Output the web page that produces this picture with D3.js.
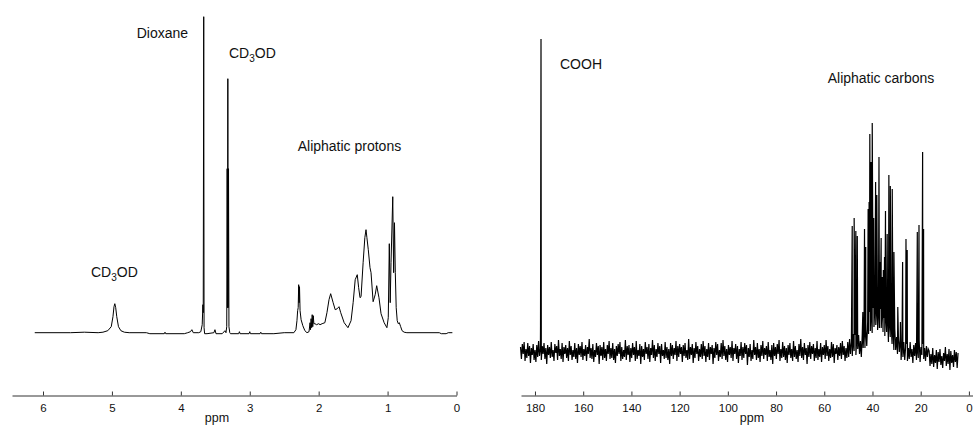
<!DOCTYPE html>
<html>
<head>
<meta charset="utf-8">
<script src="https://cdn.jsdelivr.net/npm/d3@7"></script>
<style>
  html, body { margin: 0; padding: 0; background: #fff; }
  svg { display: block; font-family: "Liberation Sans", Arial, Helvetica, sans-serif; }
</style>
</head>
<body>
<div id="container"></div>
<script>
const width = 973, height = 435;

// 1H spectrum — trace vertices [ppm, intensity]
const h1Trace = [
  [6.12, 0], [5.6, 0], [5.4, 0.5], [5.2, 0], [5.13, 0.5], [5.06, 2], [5.01, 6], [4.985, 16],
  [4.97, 26], [4.958, 29], [4.945, 25], [4.93, 16], [4.905, 6], [4.87, 2], [4.82, 0.5], [4.75, 0],
  [4.5, 0], [4.45, -1], [4.24, -1], [4.23, 0.5], [4.22, -1], [3.95, -1], [3.9, 0], [3.86, 1],
  [3.84, 3], [3.82, 0], [3.74, 0], [3.71, 1], [3.69, 8], [3.68, 28], [3.675, 20], [3.668, 316],
  [3.663, 5], [3.655, -1], [3.62, -1], [3.52, 0], [3.505, 3], [3.49, -1], [3.4, -1], [3.36, 2],
  [3.345, 0], [3.334, 6], [3.328, 164], [3.322, 25], [3.318, 254], [3.314, 25], [3.308, 164], [3.302, 6],
  [3.29, 0], [3.28, -1], [3.16, -1], [3.15, 1], [3.14, -1], [3.01, -1], [3.0, 1], [2.99, -1],
  [2.85, -1], [2.84, 0.5], [2.83, -1], [2.65, -1], [2.5, 0], [2.36, 0], [2.33, 3], [2.315, 12],
  [2.305, 22], [2.297, 25], [2.29, 48], [2.284, 30], [2.278, 46], [2.27, 22], [2.255, 13], [2.23, 7],
  [2.2, 2], [2.17, 0], [2.14, 1], [2.125, 10], [2.118, 3], [2.11, 14], [2.102, 5], [2.094, 18],
  [2.086, 6], [2.078, 17], [2.07, 9], [2.055, 9], [2.03, 8], [2.0, 9], [1.98, 8], [1.95, 9],
  [1.91, 10], [1.88, 20], [1.85, 33], [1.826, 39], [1.79, 30], [1.76, 23], [1.73, 24], [1.705, 26],
  [1.68, 20], [1.63, 10], [1.575, 5], [1.53, 12], [1.5, 30], [1.47, 53], [1.44, 58], [1.42, 45],
  [1.4, 35], [1.385, 36], [1.355, 70], [1.33, 95], [1.313, 103], [1.3, 95], [1.28, 83], [1.255, 65],
  [1.24, 60], [1.21, 31], [1.18, 38], [1.158, 47], [1.125, 35], [1.095, 19], [1.05, 10], [1.01, 5],
  [0.99, 15], [0.975, 89], [0.962, 30], [0.95, 70], [0.925, 136], [0.912, 60], [0.9, 110], [0.888, 60],
  [0.875, 25], [0.86, 12], [0.845, 9], [0.83, 10], [0.81, 6], [0.79, 2], [0.76, 0.5], [0.72, 0],
  [0.25, 0], [0.22, -1], [0.15, -1], [0.12, 0], [0.06, 0]
];
const h1Ticks = [6, 5, 4, 3, 2, 1, 0];

// 13C spectrum — baseline samples every 0.375 ppm, from 186 ppm down to 4.5 ppm
const c13Start = 186;
const c13Step = 0.375;
const c13Baseline = [
  5, -7, 8, -2, 10, -9, 3, -6, 9, -4, 6, -11, 4, -3, 8, -8, 2, -10, 7, -5,
  11, -4, 3, -8, 6, -2, 9, -7, 4, -12, 7, -3, 5, -6, 10, -5, 2, -9, 8, -1,
  6, -8, 12, -4, 3, -7, 9, -10, 5, -2, 7, -6, 4, -9, 11, -3, 6, -8, 2, -5,
  9, -7, 4, -11, 8, -3, 6, -5, 10, -8, 3, -4, 7, -9, 5, -2, 13, -6, 4, -7,
  8, -10, 2, -5, 9, -3, 6, -12, 7, -4, 5, -8, 10, -6, 3, -9, 7, -2, 11, -7,
  4, -6, 9, -8, 3, -11, 6, -4, 8, -2, 10, -9, 5, -7, 2, -5, 12, -8, 6, -3,
  7, -10, 4, -6, 9, -3, 5, -9, 11, -7, 2, -4, 8, -12, 6, -5, 3, -8, 10, -2,
  5, -7, 8, -10, 4, -3, 12, -6, 7, -9, 3, -5, 9, -2, 6, -11, 8, -4, 2, -7,
  10, -6, 5, -8, 3, -12, 9, -4, 7, -7, 4, -3, 11, -9, 6, -5, 8, -2, 5, -10,
  7, -4, 9, -6, 2, -8, 13, -7, 5, -3, 8, -11, 4, -6, 10, -2, 6, -9, 3, -5,
  8, -7, 11, -4, 6, -10, 3, -5, 9, -8, 5, -2, 7, -12, 4, -6, 10, -3, 8, -9,
  2, -5, 9, -7, 12, -4, 6, -8, 3, -10, 7, -3, 5, -6, 11, -9, 4, -2, 8, -7,
  6, -11, 3, -4, 10, -8, 5, -6, 9, -2, 7, -13, 4, -5, 8, -9, 2, -7, 12, -3,
  5, -8, 9, -6, 3, -10, 7, -4, 11, -7, 4, -3, 6, -9, 10, -5, 2, -8, 7, -12,
  9, -4, 5, -7, 8, -2, 12, -9, 3, -6, 10, -5, 6, -8, 4, -11, 7, -3, 9, -6,
  3, -9, 11, -5, 6, -7, 2, -10, 8, -4, 13, -6, 5, -8, 9, -3, 4, -12, 7, -5,
  10, -7, 6, -2, 8, -9, 4, -6, 11, -8, 3, -5, 9, -10, 5, -3, 7, -7, 12, -4,
  6, -9, 3, -6, 10, -5, 8, -11, 4, -2, 7, -8, 5, -4, 9, -7, 11, -3, 6, -9,
  4, -6,
  // broad aliphatic hump, 50.25 → 26.25 ppm
  10, -5, 13, -2, 10, -4, 18, 1, 17, -3, 15, 3, 17, -2, 11, -5, 17, 4, 23, 4,
  22, 6, 30, 18, 40, 21, 37, 19, 44, 25, 46, 27, 43, 22, 41, 24, 43, 24, 44, 20,
  34, 16, 36, 20, 36, 10, 30, 15, 29, 8, 23, 2, 23, 2, 15, -2, 16, 0, 12, -8,
  9, -5, 10, -8, 5,
  8, -9, 4, -7, 10, -5, 3, -11, 7, -4, 9, -8, 2, -6, 11, -10, 5, -3, 8, -7,
  4, -9, 6, -5, 3,
  1, -14, -2, -12, 4, -15, -3, -11, 2, -17, 0, -10, 3, -13, -4, -16, -1, -9, 5, -14,
  -2, -12, 3, -18, 1, -11, -3, -15, 2, -10, 0, -16, -1
];
// 13C lines [ppm, height]
const c13Peaks = [
  [177.7, 27], [177.5, 313],
  [48.4, 126], [47.6, 134], [46.9, 121], [46.3, 116], [44.0, 40], [43.3, 123], [42.8, 105],
  [41.8, 143], [41.4, 150], [41.1, 218], [40.6, 190], [40.1, 229], [39.8, 80], [39.5, 134],
  [38.7, 170], [38.2, 157], [37.3, 195], [36.9, 90], [36.4, 114], [35.9, 75], [35.5, 82],
  [35.0, 95], [34.6, 141], [33.9, 118], [33.2, 177], [32.6, 166], [31.8, 163], [31.1, 100],
  [29.5, 45], [28.4, 30], [27.5, 90], [26.1, 113], [25.6, 102],
  [21.4, 120], [20.7, 127], [19.2, 200], [18.8, 123]
];
const c13Ticks = [180, 160, 140, 120, 100, 80, 60, 40, 20, 0];

const ink = "#111";
const fontAxis = "11.5px";
const fontNote = "14px";

const svg = d3.select("#container")
  .append("svg")
  .attr("width", width)
  .attr("height", height);

// Scales
const xH = d3.scaleLinear().domain([6.45, 0]).range([12, 456.5]);
const yH = d3.scaleLinear().domain([0, 320]).range([332.7, 12.7]);
const xC = d3.scaleLinear().domain([185.8, -1.7]).range([521, 973]);
const yC = d3.scaleLinear().domain([0, 320]).range([352, 32]);

// 1H trace
svg.append("path")
  .datum(h1Trace)
  .attr("d", d3.line().x(d => xH(d[0])).y(d => yH(d[1])))
  .attr("fill", "none")
  .attr("stroke", "#000")
  .attr("stroke-width", 1);

// 13C trace: baseline samples merged with the line list
const c13Points = c13Baseline
  .map((v, i) => [c13Start - i * c13Step, v])
  .concat(c13Peaks)
  .sort((a, b) => b[0] - a[0]);

svg.append("path")
  .datum(c13Points)
  .attr("d", d3.line().x(d => xC(d[0])).y(d => yC(d[1])))
  .attr("fill", "none")
  .attr("stroke", "#000")
  .attr("stroke-width", 1.2);

// Axes — ticks point up into the plot
function drawAxis(scale, ticks, labelX) {
  const ax = svg.append("g")
    .attr("transform", "translate(0,395.5)")
    .call(d3.axisBottom(scale).tickValues(ticks).tickFormat(d3.format("d"))
      .tickSizeInner(-4).tickSizeOuter(0).tickPadding(8.5));
  ax.attr("font-family", null).attr("font-size", null);
  ax.select(".domain").attr("stroke", "#333");
  ax.selectAll(".tick line").attr("stroke", "#333");
  ax.selectAll("text").attr("fill", ink).style("font-size", fontAxis);

  svg.append("text")
    .attr("x", labelX).attr("y", 421.5)
    .attr("text-anchor", "middle")
    .attr("fill", ink)
    .style("font-size", "12.5px")
    .text("ppm");
}
drawAxis(xH, h1Ticks, 217);
drawAxis(xC, c13Ticks, 752);

// Annotations
function note(x, y, text) {
  svg.append("text")
    .attr("x", x).attr("y", y)
    .attr("fill", ink)
    .style("font-size", fontNote)
    .text(text);
}
function noteCD3OD(x, y) {
  const t = svg.append("text")
    .attr("x", x).attr("y", y)
    .attr("fill", ink)
    .style("font-size", fontNote);
  t.append("tspan").text("CD");
  t.append("tspan").attr("dy", 4).style("font-size", "10px").text("3");
  t.append("tspan").attr("dy", -4).text("OD");
}

note(136.7, 38.3, "Dioxane");
noteCD3OD(229, 58.3);
note(297.7, 151, "Aliphatic protons");
noteCD3OD(91, 277.3);
note(560, 69.3, "COOH");
note(827.7, 83.3, "Aliphatic carbons");
</script>
</body>
</html>
